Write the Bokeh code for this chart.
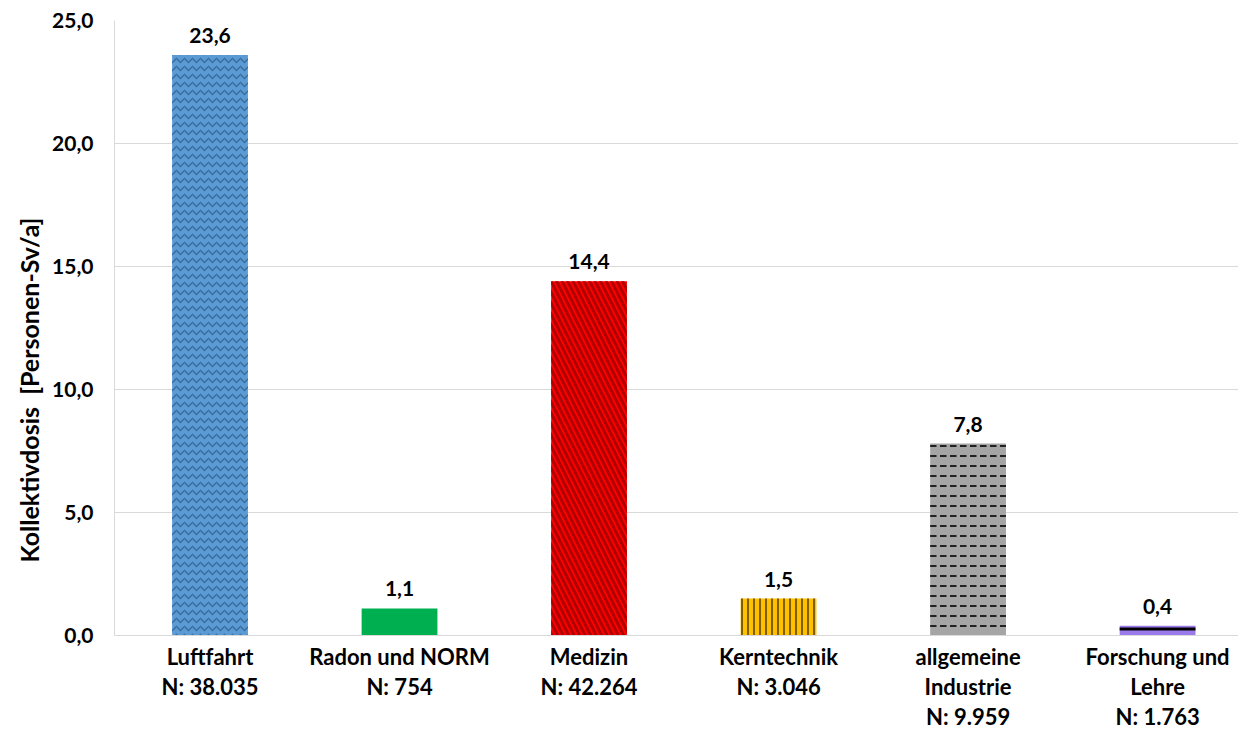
from bokeh.plotting import figure
from bokeh.models import ColumnDataSource, FixedTicker, Range1d, Title
from bokeh.core.properties import value
from bokeh.embed import file_html
from bokeh.resources import INLINE

categories = ["Luftfahrt\nN: 38.035", "Radon und NORM\nN: 754", "Medizin\nN: 42.264",
              "Kerntechnik\nN: 3.046", "allgemeine\nIndustrie\nN: 9.959", "Forschung und\nLehre\nN: 1.763"]
values = [23.6, 1.1, 14.4, 1.5, 7.8, 0.4]
fill_colors = ["#5B9BD5", "#00B050", "#FF0000", "#FFC000", "#A5A5A5", "#9B7BEA"]
hatch_patterns = ["horizontal_wave", " ", "left_diagonal_line", "vertical_line", "horizontal_dash", "horizontal_line"]
hatch_colors = ["#3A6C9C", "#00B050", "#B00000", "#7F6000", "#222222", "#000000"]
hatch_scales = [8, 8, 11, 6, 10, 8]
hatch_weights = [1.5, 1, 3, 2, 2, 3]
y_ticks = [0, 5, 10, 15, 20, 25]
y_tick_labels = ["0,0", "5,0", "10,0", "15,0", "20,0", "25,0"]
y_title = "Kollektivdosis\u00a0 [Personen-Sv/a]"

FONT = "Lato"
xs = list(range(len(categories)))
src = ColumnDataSource(dict(
    x=xs, top=values, fill=fill_colors, hp=hatch_patterns, hc=hatch_colors,
    hs=hatch_scales, hw=hatch_weights,
    lbl=[f"{v:.1f}".replace(".", ",") for v in values],
))

p = figure(width=1238, height=733, output_backend="svg", toolbar_location=None,
           x_range=Range1d(-0.504, 5.427), y_range=Range1d(0, 25),
           min_border_left=114, min_border_right=0, min_border_top=20, min_border_bottom=98)
p.outline_line_color = None
p.background_fill_color = "white"
p.border_fill_color = "white"

p.vbar(x="x", top="top", width=0.40, bottom=0, source=src, fill_color="fill", line_color=None,
       hatch_pattern="hp", hatch_color="hc", hatch_scale="hs", hatch_weight="hw")

p.text(x="x", y="top", text="lbl", source=src, text_align="center", text_baseline="bottom",
       y_offset=-12, text_font=value(FONT), text_font_style="bold", text_font_size="21px",
       text_color="#000000")

# axes
p.xgrid.grid_line_color = None
p.ygrid.grid_line_color = "#D9D9D9"
p.ygrid.ticker = FixedTicker(ticks=y_ticks)

p.yaxis.ticker = FixedTicker(ticks=y_ticks)
p.yaxis.major_label_overrides = {t: l for t, l in zip(y_ticks, y_tick_labels)}
p.yaxis.axis_line_color = "#D9D9D9"
p.yaxis.major_tick_line_color = None
p.yaxis.major_tick_out = 0
p.yaxis.minor_tick_line_color = None
p.yaxis.minor_tick_out = 0
p.yaxis.major_label_standoff = 21
p.yaxis.major_label_text_font = FONT
p.yaxis.major_label_text_font_style = "bold"
p.yaxis.major_label_text_font_size = "21px"
p.yaxis.major_label_text_color = "#000000"

p.xaxis.ticker = FixedTicker(ticks=xs)
p.xaxis.major_label_overrides = {i: c for i, c in enumerate(categories)}
p.xaxis.axis_line_color = "#D9D9D9"
p.xaxis.major_tick_line_color = None
p.xaxis.major_tick_out = 0
p.xaxis.minor_tick_line_color = None
p.xaxis.minor_tick_out = 0
p.xaxis.major_label_standoff = 7
p.xaxis.major_label_text_font = FONT
p.xaxis.major_label_text_font_style = "bold"
p.xaxis.major_label_text_font_size = "22px"
p.xaxis.major_label_text_line_height = 1.12
p.xaxis.major_label_text_color = "#000000"

t = Title(text=y_title, align="left", offset=73, text_font=FONT, text_font_style="bold",
          text_font_size="25px", text_color="#000000", standoff=12)
p.add_layout(t, "left")

open("out.html", "w").write(file_html(p, INLINE))
